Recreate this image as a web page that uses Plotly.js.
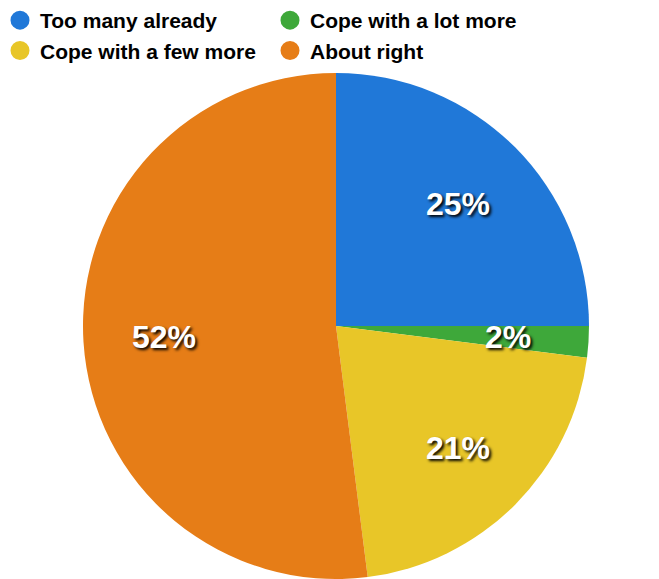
<!DOCTYPE html>
<html>
<head>
<meta charset="utf-8">
<script src="https://cdn.plot.ly/plotly-3.0.1.min.js"></script>
<style>html,body{margin:0;padding:0;background:#fff;}#chart{width:659px;height:579px;}</style>
</head>
<body>
<div id="chart"></div>
<script>
var categories = ["Too many already", "Cope with a lot more", "Cope with a few more", "About right"];
var values = [25, 2, 21, 52];
var colors = ["#2078d8", "#3ea83a", "#e8c628", "#e67d17"];

var W = 659, H = 579;
var margin = {l: 13, r: 0, t: 73, b: 0};
var plotW = W - margin.l - margin.r, plotH = H - margin.t - margin.b;
var R = Math.min(plotW, plotH) / 2;

var traces = [{
  type: "pie",
  labels: categories,
  values: values,
  sort: false,
  direction: "clockwise",
  rotation: 0,
  marker: {colors: colors, line: {width: 0}},
  textinfo: "none",
  hoverinfo: "label+percent",
  showlegend: false
}];

categories.forEach(function(c, i) {
  traces.push({
    type: "scatter", mode: "markers", x: [null], y: [null], name: c,
    marker: {symbol: "circle", size: 16, color: colors[i], line: {width: 3, color: colors[i]}},
    showlegend: true, hoverinfo: "skip"
  });
});

// label annotations at the mid-angle of each slice
var total = values.reduce(function(a, b) { return a + b; }, 0);
var cum = 0;
var annotations = values.map(function(v) {
  var mid = (cum + v / 2) / total * 2 * Math.PI;
  cum += v;
  var r = 0.68 * R;
  return {
    xref: "paper", yref: "paper",
    x: 0.5 + r * Math.sin(mid) / plotW,
    y: 0.5 + r * Math.cos(mid) / plotH,
    text: Math.round(v / total * 100) + "%",
    showarrow: false, xanchor: "center", yanchor: "middle",
    font: {family: "Liberation Sans, Arial, sans-serif", size: 32, color: "#ffffff", weight: "bold", shadow: "2px 2px 3px #000"}
  };
});

var layout = {
  width: W, height: H,
  margin: margin,
  paper_bgcolor: "#ffffff", plot_bgcolor: "rgba(0,0,0,0)",
  xaxis: {visible: false}, yaxis: {visible: false},
  annotations: annotations,
  showlegend: true,
  legend: {
    orientation: "h", xref: "container", yref: "container",
    x: 0, y: 1, xanchor: "left", yanchor: "top",
    entrywidth: 225,
    font: {family: "Liberation Sans, Arial, sans-serif", size: 21, color: "#000", weight: "bold"},
    itemsizing: "trace", tracegroupgap: 0,
    bgcolor: "rgba(0,0,0,0)"
  }
};

Plotly.newPlot("chart", traces, layout, {displayModeBar: false, staticPlot: true});
</script>
</body>
</html>
